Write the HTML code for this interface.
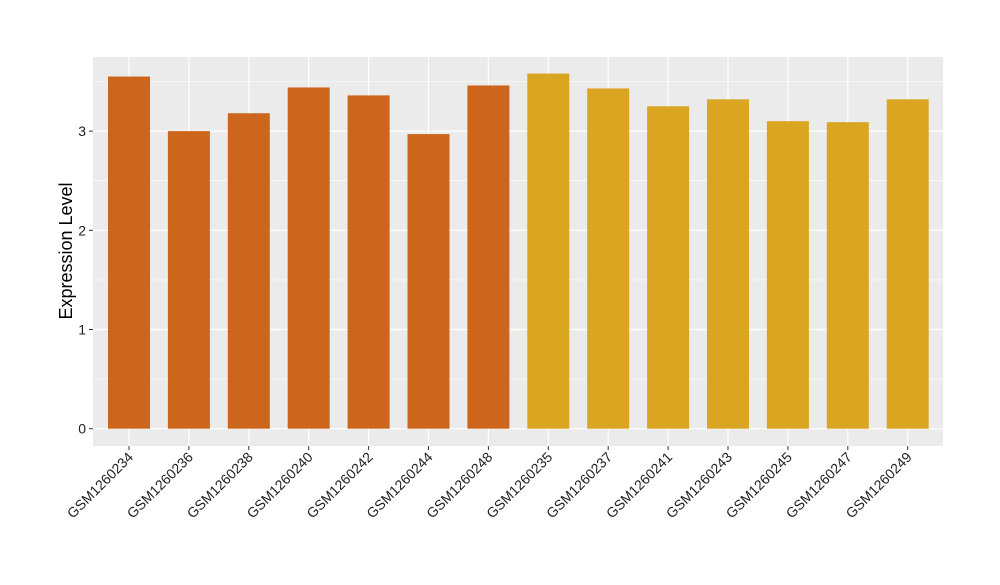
<!DOCTYPE html>
<html><head><meta charset="utf-8"><style>
body{margin:0;background:#fff;font-family:"Liberation Sans",Arial,sans-serif;}
</style></head><body>
<svg width="1000" height="580" xmlns="http://www.w3.org/2000/svg">
<rect x="93" y="57" width="850" height="389" fill="#EBEBEB"/>
<g id="grid"></g><g id="bars"></g><g id="axes"></g>
<text transform="translate(72,251) rotate(-90)" text-anchor="middle" font-size="18" fill="#000">Expression Level</text>
</svg>
<script>
const categories=["GSM1260234","GSM1260236","GSM1260238","GSM1260240","GSM1260242","GSM1260244","GSM1260248","GSM1260235","GSM1260237","GSM1260241","GSM1260243","GSM1260245","GSM1260247","GSM1260249"];
const values=[3.55,3.0,3.18,3.44,3.36,2.97,3.46,3.58,3.43,3.25,3.32,3.10,3.09,3.32];
const groups=[0,0,0,0,0,0,0,1,1,1,1,1,1,1];
const groupColors=["#CD661D","#DAA520"];
const yTicks=[0,1,2,3];
const NS="http://www.w3.org/2000/svg";
const x0=129,step=59.9,bw=42;
const y=v=>428.7-v*99.2;
const x=i=>x0+i*step;
function mk(tag,attrs,parent){const e=document.createElementNS(NS,tag);for(const k in attrs)e.setAttribute(k,attrs[k]);parent.appendChild(e);return e;}
const grid=document.getElementById('grid'),bars=document.getElementById('bars'),axes=document.getElementById('axes');
for(let t=0.5;t<3.75;t+=1){const l=mk('line',{x1:93,x2:943,y1:y(t),y2:y(t),stroke:'#fff','stroke-width':0.6},grid);

}
yTicks.forEach(t=>{const l=mk('line',{x1:93,x2:943,y1:y(t),y2:y(t),stroke:'#fff','stroke-width':1.2},grid);


const tk=mk('line',{x1:89,x2:93,y1:y(t),y2:y(t),stroke:'#333','stroke-width':1},axes);


const tx=mk('text',{x:86,y:y(t)+5,'text-anchor':'end','font-size':14,fill:'#222'},axes);tx.textContent=t;

});
categories.forEach((c,i)=>{const l=mk('line',{x1:x(i),x2:x(i),y1:57,y2:446,stroke:'#fff','stroke-width':1.2},grid);


const b=mk('rect',{x:x(i)-bw/2,y:y(values[i]),width:bw,height:y(0)-y(values[i]),fill:groupColors[groups[i]]},bars);


const tk=mk('line',{x1:x(i),x2:x(i),y1:446,y2:450,stroke:'#333','stroke-width':1},axes);


const tx=mk('text',{transform:`translate(${x(i)+5},${458}) rotate(-45)`,'text-anchor':'end','font-size':14,fill:'#222'},axes);tx.textContent=c;

});
</script>
</body></html>
